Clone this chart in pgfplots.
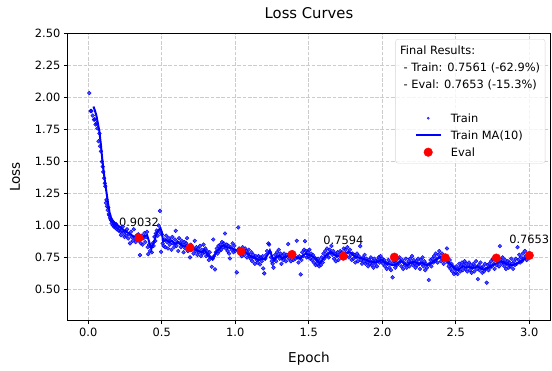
\documentclass[border=0pt]{standalone}
\usepackage{fontspec}
\setmainfont{DejaVu Sans}
\usepackage{pgfplots}
\pgfplotsset{compat=1.18}
\usepackage{pgfplotstable}

\pgfplotsset{
  dotlegend/.style={legend image code/.code={\path (0pt,0pt) (39pt,0pt);
    \draw[mark repeat=2, mark phase=2, ##1, fill opacity=1, draw opacity=1] plot coordinates {(14.3pt,0pt) (26.6pt,0pt) (39pt,0pt)};}},
  smalldotlegend/.style={legend image code/.code={\path (0pt,0pt) (39pt,0pt);
    \draw[mark repeat=2, mark phase=2, ##1, mark size=1.1pt, mark options={fill opacity=0.45}] plot coordinates {(14.3pt,0pt) (26.6pt,0pt) (39pt,0pt)};}},
  linelegend/.style={legend image code/.code={\path (0pt,0pt) (39pt,0pt);
    \draw[##1, draw opacity=1] (14.3pt,0pt) -- (39pt,0pt);}},
}

\pgfplotstableread{
x y
0.007 2.036
0.016 1.895
0.021 1.895
0.030 1.86
0.039 1.828
0.044 1.83
0.050 1.79
0.056 1.80
0.062 1.76
0.070 1.659
0.076 1.72
0.080 1.62
0.086 1.58
0.093 1.50
0.098 1.46
0.102 1.419
0.108 1.37
0.112 1.33
0.116 1.307
0.120 1.177
0.124 1.20
0.127 1.15
0.132 1.12
0.136 1.14
0.140 1.09
0.143 1.08
0.148 1.06
0.152 1.05
0.156 1.04
0.159 1.016
0.164 1.03
0.168 1.00
0.172 1.02
0.176 0.99
0.180 1.00
0.185 0.98
0.190 1.01
0.195 0.97
0.200 0.99
0.206 0.96
0.212 0.975
0.218 0.95
0.222 0.924
0.228 0.96
0.234 0.99
0.240 0.94
0.246 0.91
0.252 0.95
0.258 0.92
0.264 0.97
0.272 0.898
0.278 0.93
0.284 0.86
0.290 0.95
0.296 0.91
0.302 0.88
0.310 0.97
0.316 0.90
0.322 0.87
0.328 0.92
0.334 0.89
0.340 0.93
0.346 0.88
0.352 0.768
0.358 0.86
0.364 0.92
0.370 0.85
0.376 0.90
0.382 0.94
0.388 0.87
0.394 0.91
0.400 0.95
0.404 0.83
0.408 0.776
0.414 0.85
0.420 0.80
0.426 0.83
0.432 0.79
0.438 0.86
0.444 0.84
0.450 0.91
0.456 0.88
0.460 0.937
0.466 0.96
0.472 0.92
0.478 1.00
0.484 0.95
0.488 1.114
0.495 0.794
0.500 0.93
0.506 0.86
0.512 0.84
0.518 0.89
0.524 0.83
0.530 0.92
0.536 0.87
0.542 0.82
0.548 0.90
0.554 0.85
0.560 0.88
0.566 0.81
0.572 0.91
0.578 0.86
0.584 0.83
0.590 0.89
0.595 0.958
0.600 0.84
0.606 0.87
0.612 0.80
0.618 0.90
0.624 0.86
0.630 0.83
0.636 0.88
0.642 0.85
0.648 0.79
0.654 0.87
0.660 0.82
0.666 0.86
0.672 0.90
0.678 0.80
0.684 0.84
0.692 0.75
0.698 0.85
0.704 0.81
0.710 0.83
0.716 0.78
0.724 0.88
0.730 0.80
0.736 0.83
0.742 0.77
0.748 0.82
0.754 0.79
0.760 0.84
0.766 0.76
0.772 0.81
0.778 0.78
0.784 0.85
0.790 0.79
0.796 0.82
0.802 0.76
0.808 0.80
0.814 0.77
0.820 0.729
0.826 0.79
0.832 0.75
0.840 0.677
0.846 0.74
0.850 0.89
0.856 0.76
0.862 0.656
0.868 0.79
0.874 0.82
0.880 0.78
0.886 0.84
0.892 0.80
0.898 0.85
0.904 0.81
0.910 0.87
0.916 0.83
0.922 0.86
0.930 0.937
0.936 0.82
0.942 0.85
0.948 0.80
0.954 0.84
0.958 0.78
0.964 0.742
0.970 0.83
0.976 0.81
0.982 0.86
0.988 0.79
0.994 0.84
1.000 0.80
1.010 0.633
1.020 0.984
1.026 0.82
1.032 0.78
1.038 0.81
1.044 0.76
1.050 0.83
1.056 0.79
1.062 0.77
1.068 0.82
1.074 0.80
1.080 0.75
1.086 0.78
1.092 0.81
1.098 0.76
1.104 0.74
1.110 0.79
1.116 0.72
1.122 0.77
1.128 0.75
1.134 0.70
1.140 0.76
1.146 0.73
1.152 0.71
1.158 0.76
1.164 0.74
1.168 0.695
1.174 0.75
1.180 0.72
1.186 0.76
1.190 0.664
1.197 0.625
1.204 0.74
1.210 0.77
1.216 0.80
1.225 0.859
1.230 0.85
1.236 0.79
1.242 0.75
1.248 0.72
1.254 0.70
1.260 0.67
1.266 0.74
1.272 0.77
1.278 0.72
1.284 0.79
1.290 0.76
1.296 0.81
1.302 0.74
1.308 0.78
1.314 0.70
1.320 0.76
1.326 0.73
1.332 0.78
1.338 0.75
1.344 0.72
1.350 0.77
1.360 0.854
1.366 0.74
1.372 0.78
1.378 0.72
1.384 0.76
1.390 0.79
1.396 0.73
1.402 0.77
1.408 0.74
1.418 0.88
1.424 0.75
1.430 0.71
1.436 0.76
1.445 0.617
1.450 0.73
1.456 0.79
1.462 0.76
1.468 0.81
1.474 0.877
1.480 0.80
1.486 0.75
1.492 0.79
1.498 0.76
1.504 0.81
1.510 0.74
1.516 0.78
1.522 0.73
1.528 0.77
1.534 0.71
1.540 0.75
1.546 0.69
1.552 0.73
1.558 0.70
1.564 0.74
1.570 0.68
1.576 0.72
1.582 0.69
1.588 0.75
1.594 0.71
1.600 0.78
1.606 0.74
1.612 0.80
1.618 0.76
1.624 0.82
1.630 0.78
1.636 0.75
1.642 0.81
1.648 0.79
1.654 0.84
1.660 0.77
1.666 0.80
1.672 0.74
1.678 0.78
1.684 0.72
1.690 0.76
1.696 0.79
1.702 0.73
1.708 0.77
1.714 0.80
1.720 0.75
1.726 0.79
1.732 0.76
1.738 0.82
1.744 0.78
1.750 0.81
1.756 0.76
1.762 0.83
1.768 0.79
1.774 0.75
1.780 0.81
1.786 0.77
1.792 0.73
1.798 0.78
1.804 0.74
1.810 0.77
1.816 0.71
1.822 0.75
1.828 0.78
1.834 0.72
1.840 0.76
1.850 0.838
1.856 0.73
1.862 0.70
1.868 0.75
1.874 0.72
1.880 0.77
1.886 0.70
1.892 0.74
1.898 0.71
1.904 0.68
1.910 0.73
1.916 0.70
1.922 0.75
1.928 0.69
1.934 0.72
1.940 0.67
1.946 0.74
1.952 0.70
1.958 0.72
1.964 0.68
1.970 0.73
1.976 0.75
1.982 0.71
1.988 0.76
1.994 0.72
2.000 0.74
2.006 0.70
2.012 0.73
2.018 0.68
2.024 0.71
2.030 0.66
2.036 0.70
2.042 0.73
2.048 0.67
2.054 0.71
2.060 0.65
2.070 0.594
2.076 0.70
2.082 0.72
2.088 0.67
2.094 0.71
2.100 0.69
2.106 0.74
2.112 0.70
2.118 0.75
2.124 0.72
2.130 0.68
2.136 0.73
2.142 0.66
2.148 0.71
2.154 0.69
2.160 0.74
2.166 0.67
2.172 0.70
2.178 0.72
2.184 0.68
2.190 0.74
2.196 0.71
2.202 0.76
2.208 0.69
2.214 0.73
2.220 0.70
2.226 0.67
2.232 0.72
2.238 0.69
2.244 0.74
2.250 0.70
2.256 0.66
2.262 0.73
2.268 0.70
2.274 0.75
2.280 0.68
2.286 0.72
2.292 0.65
2.298 0.70
2.304 0.67
2.316 0.573
2.322 0.70
2.328 0.73
2.334 0.68
2.340 0.74
2.346 0.71
2.352 0.76
2.358 0.72
2.364 0.78
2.370 0.74
2.376 0.71
2.382 0.77
2.388 0.80
2.394 0.75
2.400 0.72
2.406 0.78
2.412 0.74
2.418 0.70
2.424 0.76
2.430 0.73
2.440 0.82
2.446 0.71
2.452 0.68
2.458 0.73
2.464 0.66
2.470 0.70
2.476 0.64
2.482 0.68
2.488 0.62
2.494 0.66
2.500 0.63
2.506 0.68
2.512 0.62
2.518 0.66
2.524 0.70
2.530 0.64
2.536 0.68
2.542 0.71
2.548 0.65
2.554 0.69
2.560 0.72
2.566 0.66
2.572 0.70
2.578 0.64
2.584 0.68
2.590 0.71
2.596 0.65
2.602 0.69
2.608 0.63
2.614 0.67
2.620 0.70
2.626 0.64
2.632 0.68
2.638 0.72
2.644 0.66
2.650 0.58
2.656 0.69
2.662 0.65
2.668 0.71
2.674 0.67
2.680 0.63
2.686 0.68
2.692 0.64
2.698 0.70
2.704 0.66
2.710 0.552
2.716 0.69
2.722 0.65
2.728 0.70
2.734 0.67
2.740 0.72
2.746 0.68
2.752 0.74
2.758 0.70
2.764 0.66
2.770 0.73
2.776 0.69
2.782 0.75
2.788 0.71
2.794 0.68
2.800 0.838
2.806 0.73
2.812 0.70
2.818 0.75
2.824 0.71
2.830 0.68
2.836 0.73
2.842 0.66
2.848 0.70
2.854 0.72
2.860 0.67
2.866 0.71
2.872 0.68
2.878 0.74
2.884 0.70
2.890 0.66
2.896 0.72
2.902 0.69
2.908 0.74
2.914 0.70
2.920 0.83
2.926 0.73
2.932 0.77
2.938 0.71
2.944 0.75
2.950 0.72
2.956 0.78
2.962 0.74
2.970 0.80
2.976 0.76
2.982 0.73
2.988 0.77
2.994 0.75
3.000 0.76
}\trainpts

\pgfplotstableread{
x y
0.035 1.93
0.045 1.90
0.055 1.86
0.065 1.80
0.075 1.74
0.085 1.64
0.095 1.52
0.105 1.42
0.115 1.33
0.125 1.25
0.135 1.17
0.145 1.10
0.155 1.06
0.165 1.04
0.180 1.02
0.200 1.00
0.220 0.985
0.240 0.965
0.260 0.95
0.280 0.935
0.300 0.92
0.320 0.905
0.340 0.90
0.360 0.895
0.380 0.915
0.400 0.925
0.420 0.85
0.430 0.82
0.450 0.88
0.465 0.94
0.480 0.965
0.490 0.98
0.500 0.95
0.510 0.875
0.530 0.89
0.550 0.87
0.570 0.88
0.590 0.855
0.610 0.87
0.630 0.85
0.650 0.835
0.670 0.845
0.690 0.825
0.710 0.83
0.730 0.81
0.750 0.80
0.770 0.79
0.790 0.81
0.810 0.775
0.830 0.75
0.845 0.735
0.860 0.77
0.875 0.80
0.890 0.815
0.905 0.835
0.920 0.845
0.940 0.83
0.960 0.825
0.980 0.82
1.000 0.81
1.020 0.80
1.040 0.79
1.060 0.80
1.080 0.78
1.100 0.765
1.120 0.75
1.140 0.74
1.160 0.73
1.180 0.74
1.200 0.735
1.220 0.77
1.235 0.805
1.250 0.76
1.260 0.73
1.280 0.75
1.300 0.765
1.320 0.74
1.340 0.755
1.360 0.76
1.380 0.75
1.400 0.76
1.420 0.745
1.440 0.74
1.460 0.765
1.480 0.78
1.500 0.77
1.520 0.76
1.540 0.745
1.560 0.72
1.575 0.705
1.590 0.725
1.610 0.76
1.630 0.775
1.650 0.79
1.670 0.775
1.690 0.76
1.710 0.765
1.730 0.77
1.750 0.78
1.770 0.79
1.790 0.785
1.810 0.76
1.830 0.75
1.850 0.745
1.870 0.74
1.890 0.73
1.910 0.72
1.930 0.715
1.950 0.71
1.970 0.715
1.990 0.73
2.010 0.72
2.030 0.70
2.050 0.695
2.070 0.69
2.090 0.69
2.110 0.71
2.130 0.72
2.150 0.70
2.170 0.69
2.190 0.705
2.210 0.715
2.230 0.71
2.250 0.70
2.270 0.71
2.290 0.695
2.310 0.69
2.330 0.705
2.350 0.72
2.370 0.735
2.390 0.75
2.410 0.755
2.430 0.73
2.450 0.71
2.470 0.69
2.490 0.665
2.510 0.65
2.530 0.665
2.550 0.68
2.570 0.67
2.590 0.675
2.610 0.665
2.630 0.67
2.650 0.68
2.670 0.665
2.690 0.655
2.710 0.665
2.730 0.675
2.750 0.69
2.770 0.70
2.790 0.71
2.810 0.72
2.830 0.71
2.850 0.695
2.870 0.69
2.890 0.69
2.910 0.70
2.930 0.71
2.950 0.725
2.970 0.74
2.990 0.75
3.000 0.756
}\trainma

\pgfplotstableread{
x y
0.345 0.9032
0.692 0.825
1.039 0.797
1.386 0.773
1.735 0.7594
2.082 0.752
2.429 0.747
2.776 0.745
3.000 0.7653
}\evalpts

\begin{document}
\begin{tikzpicture}
\begin{axis}[
  name=ax,
  scale only axis,
  width=482.6pt, height=286.6pt,
  xmin=-0.14, xmax=3.143, ymin=0.258, ymax=2.5,
  xtick={0,0.5,1,1.5,2,2.5,3},
  xticklabels={0.0,0.5,1.0,1.5,2.0,2.5,3.0},
  ytick={0.5,0.75,1,1.25,1.5,1.75,2,2.25,2.5},
  yticklabels={0.50,0.75,1.00,1.25,1.50,1.75,2.00,2.25,2.50},
  tick align=outside, tick pos=left,
  major tick length=3.9pt,
  tick style={black, line width=0.8pt},
  axis line style={black, line width=0.8pt},
  ticklabel style={font=\fontsize{11.4}{13}\selectfont},
  grid=major,
  major grid style={gray!40, line width=0.8pt, dash pattern=on 3.7pt off 1.6pt},
  xlabel={Epoch}, ylabel={Loss},
  label style={font=\fontsize{13.6}{15}\selectfont},
  xlabel style={at={(axis description cs:0.5,0)}, anchor=base, yshift=-41.7pt},
  ylabel style={at={(axis description cs:0,0.5)}, anchor=base, yshift=47.7pt},
  title={Loss Curves},
  title style={font=\fontsize{14.8}{16}\selectfont, at={(axis description cs:0.5,1)}, anchor=base, yshift=9pt},
  legend cell align=left,
  legend style={at={(1,1)}, anchor=north east, xshift=-5pt, yshift=-5.3pt,
    draw=black!16, rounded corners=2.5pt, fill=white, fill opacity=0.8, text opacity=1,
    inner xsep=5pt, inner ysep=2.5pt, row sep=0pt, column sep=9.3pt,
    font=\fontsize{11.4}{13}\selectfont,
    nodes={inner sep=0pt, text height=12.65pt, text depth=4.35pt}},
]
\addlegendimage{empty legend}
\addlegendentry{\hspace*{-50.7pt}Final Results:}
\addlegendimage{empty legend}
\addlegendentry{\hspace*{-47.3pt}- Train: 0.7561 (-62.9\%)}
\addlegendimage{empty legend}
\addlegendentry{\hspace*{-47.3pt}- Eval: 0.7653 (-15.3\%)}
\addlegendimage{empty legend}
\addlegendentry{}

\addplot[only marks, mark=*, mark size=1.9pt, color=blue,
  mark options={draw=none, fill=blue, fill opacity=0.72}, smalldotlegend]
  table[x=x, y=y] {\trainpts};
\addlegendentry{Train}

\addplot[no marks, color=blue, line width=2pt, linelegend]
  table[x=x, y=y] {\trainma};
\addlegendentry{Train MA(10)}

\addplot[only marks, mark=*, mark size=4.3pt, color=red,
  mark options={draw=none, fill=red}, dotlegend]
  table[x=x, y=y] {\evalpts};
\addlegendentry{Eval}

\node[anchor=south, inner sep=0pt, yshift=11.4pt, font=\fontsize{11.4}{13}\selectfont] at (axis cs:0.345,0.9032) {0.9032};
\node[anchor=south, inner sep=0pt, yshift=11.4pt, font=\fontsize{11.4}{13}\selectfont] at (axis cs:1.735,0.7594) {0.7594};
\node[anchor=south, inner sep=0pt, yshift=11.4pt, font=\fontsize{11.4}{13}\selectfont] at (axis cs:3.0,0.7653) {0.7653};
\end{axis}
\pgfresetboundingbox
\path[use as bounding box] (ax.south west) ++(-67.7pt,-49.7pt) rectangle ([shift={(1.7pt,33.7pt)}]ax.north east);
\end{tikzpicture}
\end{document}
